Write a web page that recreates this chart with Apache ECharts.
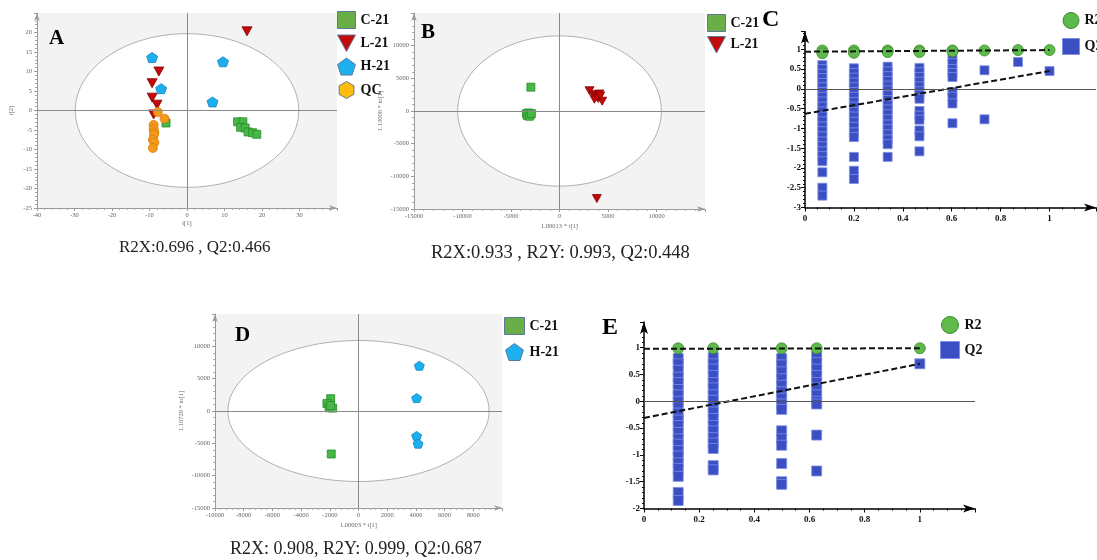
<!DOCTYPE html>
<html>
<head>
<meta charset="utf-8">
<script src="https://cdn.jsdelivr.net/npm/echarts@6/dist/echarts.min.js"></script>
<style>html,body{margin:0;padding:0;background:#fff;}#chart{width:1097px;height:560px;}</style>
</head>
<body>
<div id="chart"></div>
<script>
// ---------- DATA ----------
// Panel A (PCA scores t[1], t[2])
const aC21 = [[-5.6,-3.2],[13.5,-2.9],[14.9,-2.9],[14.3,-4.3],[15.5,-4.5],[16.3,-5.5],[17.5,-5.7],[18.6,-6.1]];
const aL21 = [[16,20.3],[-7.5,10],[-9.3,7],[-9.3,3.3],[-8,1.5],[-8.9,-1.0]];
const aH21 = [[-9.3,13.6],[-6.9,5.6],[9.6,12.5],[6.8,2.2]];
const aQC  = [[-7.8,-0.4],[-6,-2.1],[-8.9,-3.7],[-8.9,-4.8],[-8.7,-5.6],[-8.8,-6.2],[-9.1,-7.5],[-8.7,-8.2],[-9.1,-9.6]];
const aEllipse = [0, 0, 29.8, 19.7];
// Panel B (OPLS-DA C-21 vs L-21)
const bC21 = [[-2950,3650],[-3400,-400],[-3200,-300],[-3000,-500],[-3300,-700],[-3100,-800],[-2900,-400]];
const bL21 = [[3100,3100],[3500,2500],[3800,2200],[4100,2600],[3600,1800],[4000,1900],[4400,1500],[4200,2300],[3850,-13400]];
const bEllipse = [0, 0, 10500, 11500];
// Panel D (OPLS-DA C-21 vs H-21)
const dC21 = [[-1940,1900],[-2200,1150],[-2050,500],[-1800,450],[-1950,850],[-1900,-6650]];
const dH21 = [[4240,7000],[4050,2000],[4050,-3850],[4150,-5050]];
const dEllipse = [0, 0, 9100, 10900];
// Panel C (permutation test)
const cR2 = [[0.071,0.97],[0.071,0.9],[0.2,0.97],[0.2,0.91],[0.338,0.97],[0.338,0.93],[0.468,0.97],[0.468,0.93],[0.603,0.97],[0.603,0.95],[0.734,0.97],[0.871,0.98],[1,0.98]];
const cQ2 = [
  [0.071,0.6],[0.071,0.5],[0.071,0.38],[0.071,0.27],[0.071,0.15],[0.071,0.04],[0.071,-0.08],[0.071,-0.2],[0.071,-0.32],[0.071,-0.45],[0.071,-0.57],[0.071,-0.7],[0.071,-0.82],[0.071,-0.95],[0.071,-1.07],[0.071,-1.2],[0.071,-1.33],[0.071,-1.45],[0.071,-1.58],[0.071,-1.7],[0.071,-1.83],[0.071,-2.11],[0.071,-2.5],[0.071,-2.7],
  [0.2,0.52],[0.2,0.4],[0.2,0.28],[0.2,0.16],[0.2,0.04],[0.2,-0.08],[0.2,-0.2],[0.2,-0.33],[0.2,-0.45],[0.2,-0.58],[0.2,-0.7],[0.2,-0.83],[0.2,-0.96],[0.2,-1.1],[0.2,-1.22],[0.2,-1.72],[0.2,-2.07],[0.2,-2.28],
  [0.338,0.56],[0.338,0.44],[0.338,0.32],[0.338,0.2],[0.338,0.08],[0.338,-0.04],[0.338,-0.16],[0.338,-0.28],[0.338,-0.4],[0.338,-0.52],[0.338,-0.64],[0.338,-0.77],[0.338,-0.9],[0.338,-1.02],[0.338,-1.15],[0.338,-1.28],[0.338,-1.4],[0.338,-1.72],
  [0.468,0.53],[0.468,0.42],[0.468,0.3],[0.468,0.18],[0.468,0.06],[0.468,-0.06],[0.468,-0.15],[0.468,-0.25],[0.468,-0.56],[0.468,-0.68],[0.468,-0.78],[0.468,-1.05],[0.468,-1.2],[0.468,-1.58],
  [0.603,0.78],[0.603,0.65],[0.603,0.5],[0.603,0.4],[0.603,0.3],[0.603,-0.08],[0.603,-0.2],[0.603,-0.37],[0.603,-0.87],
  [0.734,0.47],[0.734,-0.77],[0.871,0.68],[1,0.45]
];
const cR2fit = [[0,0.94],[1,0.98]];
const cQ2fit = [[0,-0.63],[1,0.45]];
// Panel E (permutation test)
const eR2 = [[0.124,0.99],[0.251,0.99],[0.499,0.99],[0.626,0.99],[1,0.99]];
const eQ2 = [
  [0.124,0.8],[0.124,0.7],[0.124,0.58],[0.124,0.45],[0.124,0.35],[0.124,0.22],[0.124,0.12],[0.124,0.0],[0.124,-0.1],[0.124,-0.22],[0.124,-0.35],[0.124,-0.45],[0.124,-0.58],[0.124,-0.7],[0.124,-0.8],[0.124,-0.92],[0.124,-1.02],[0.124,-1.15],[0.124,-1.25],[0.124,-1.4],[0.124,-1.7],[0.124,-1.85],
  [0.251,0.82],[0.251,0.7],[0.251,0.6],[0.251,0.48],[0.251,0.35],[0.251,0.25],[0.251,0.12],[0.251,0.02],[0.251,-0.1],[0.251,-0.2],[0.251,-0.32],[0.251,-0.45],[0.251,-0.55],[0.251,-0.68],[0.251,-0.78],[0.251,-0.88],[0.251,-1.2],[0.251,-1.28],
  [0.499,0.8],[0.499,0.68],[0.499,0.55],[0.499,0.42],[0.499,0.3],[0.499,0.18],[0.499,0.06],[0.499,-0.05],[0.499,-0.15],[0.499,-0.55],[0.499,-0.7],[0.499,-0.82],[0.499,-1.16],[0.499,-1.5],[0.499,-1.55],
  [0.626,0.85],[0.626,0.72],[0.626,0.6],[0.626,0.48],[0.626,0.35],[0.626,0.25],[0.626,0.12],[0.626,0.0],[0.626,-0.05],[0.626,-0.63],[0.626,-1.3],
  [1,0.7]
];
const eR2fit = [[0,0.98],[1,0.99]];
const eQ2fit = [[0,-0.31],[1,0.70]];
// Texts
const captions = ['R2X:0.696 , Q2:0.466', 'R2X:0.933 , R2Y: 0.993, Q2:0.448', 'R2X: 0.908, R2Y: 0.999, Q2:0.687'];
const panelLetters = ['A','B','C','D','E'];

// ---------- STYLE ----------
const SERIF = 'Liberation Serif';
const GREEN = '#45b845', RED = '#c20a0a', CYAN = '#1eb0ee', ORANGE = '#f39b1c';
const BLUE = '#3b4ec2', LGREEN = '#5ebb4b';
const TRI = 'path://M0,0L12,0L6,11Z';
const PENT = 'path://M6,0L12,4.4L9.7,11.4L2.3,11.4L0,4.4Z';
const HEX = 'path://M5.2,0L10.4,3L10.4,9L5.2,12L0,9L0,3Z';
const plain = function (v) { return String(Math.round(v * 1000) / 1000); };

const chart = echarts.init(document.getElementById('chart'));

function scoreAxes(gi, xmin, xmax, xint, ymin, ymax, yint, xname, yname, xgap, ygap) {
  const line = {show:true, onZero:false, lineStyle:{color:'#9a9a9a', width:1}, symbol:['none','arrow'], symbolSize:[4,8]};
  const lab = {fontFamily:SERIF, fontSize:6.5, color:'#666', showMaxLabel:false, formatter:plain};
  return {
    x: {type:'value', gridIndex:gi, min:xmin, max:xmax, interval:xint, axisLine:line,
        axisTick:{show:true, length:3, lineStyle:{color:'#9a9a9a'}}, minorTick:{show:true, splitNumber:5, length:2, lineStyle:{color:'#aaa'}},
        axisLabel:Object.assign({margin:4}, lab), splitLine:{show:false},
        name:xname, nameLocation:'middle', nameGap:xgap, nameTextStyle:{fontFamily:SERIF, fontSize:6.5, color:'#666'}},
    y: {type:'value', gridIndex:gi, min:ymin, max:ymax, interval:yint, axisLine:line,
        axisTick:{show:true, length:3, lineStyle:{color:'#9a9a9a'}}, minorTick:{show:true, splitNumber:5, length:2, lineStyle:{color:'#aaa'}},
        axisLabel:Object.assign({margin:5}, lab), splitLine:{show:false},
        name:yname, nameLocation:'middle', nameGap:ygap, nameRotate:90, nameTextStyle:{fontFamily:SERIF, fontSize:6.5, color:'#666'}}
  };
}
function permAxes(gi, xmax, ymin, ymax) {
  const line = {show:true, onZero:false, lineStyle:{color:'#000', width:1.5}, symbol:['none','arrow'], symbolSize:[6,12]};
  const lab = {fontFamily:SERIF, fontSize:9, fontWeight:'bold', color:'#111', showMaxLabel:false, formatter:plain};
  return {
    x: {type:'value', gridIndex:gi, min:0, max:xmax, interval:0.2, axisLine:line,
        axisTick:{show:true, length:4, lineStyle:{color:'#000'}}, minorTick:{show:true, splitNumber:4, length:2, lineStyle:{color:'#000'}},
        axisLabel:Object.assign({margin:7}, lab), splitLine:{show:false}},
    y: {type:'value', gridIndex:gi, min:ymin, max:ymax, interval:0.5, axisLine:line,
        axisTick:{show:true, length:4, lineStyle:{color:'#000'}}, minorTick:{show:true, splitNumber:5, length:2, lineStyle:{color:'#000'}},
        axisLabel:Object.assign({margin:4}, lab), splitLine:{show:false}}
  };
}
const axA = scoreAxes(0, -40, 40, 10, -25, 25, 5, 't[1]', 't[2]', 8, 22);
const axB = scoreAxes(1, -15000, 15000, 5000, -15000, 15000, 5000, '1.00013 * t[1]', '1.13006 * to[1]', 14, 30);
const axC = permAxes(2, 1.19, -3, 1.45);
const axD = scoreAxes(3, -10000, 10000, 2000, -15000, 15000, 5000, '1.00003 * t[1]', '1.16729 * to[1]', 14, 30);
const axE = permAxes(4, 1.2, -2, 1.48);

function ellipseSeries(gi, e) {
  return {type:'custom', xAxisIndex:gi, yAxisIndex:gi, z:1, silent:true, data:[e],
    renderItem: function(params, api) {
      const c = api.coord([api.value(0), api.value(1)]);
      const s = api.size([api.value(2), api.value(3)]);
      return {type:'ellipse', shape:{cx:c[0], cy:c[1], rx:s[0], ry:s[1]}, style:{fill:'#fff', stroke:'#b0b0b0', lineWidth:1}};
    }};
}
const crossLines = {silent:true, symbol:'none', label:{show:false}, lineStyle:{color:'#8a8a8a', width:1, type:'solid'}, data:[{xAxis:0},{yAxis:0}], animation:false};
const zeroLine = {silent:true, symbol:'none', label:{show:false}, lineStyle:{color:'#555', width:1, type:'solid'}, data:[{yAxis:0}], animation:false};

function sc(gi, name, data, symbol, size, color, border, z) {
  return {type:'scatter', name:name, xAxisIndex:gi, yAxisIndex:gi, data:data, symbol:symbol, symbolSize:size, z:z||3,
    itemStyle:{color:color, borderColor:border, borderWidth:0.8, opacity:1}};
}
function fit(gi, name, data) {
  return {type:'line', name:name, xAxisIndex:gi, yAxisIndex:gi, data:data, symbol:'none', z:4,
    lineStyle:{color:'#111', width:2, type:[6,3]}};
}

const series = [
  ellipseSeries(0, aEllipse),
  Object.assign(sc(0,'C-21',aC21,'rect',8,GREEN,'#2c8c2c'), {markLine:crossLines}),
  sc(0,'L-21',aL21,TRI,[10,9],RED,'#8a0000'),
  sc(0,'H-21',aH21,PENT,[11,10],CYAN,'#0c86c0'),
  sc(0,'QC',aQC,'circle',9,ORANGE,'#dd7a00'),
  ellipseSeries(1, bEllipse),
  Object.assign(sc(1,'C-21',bC21,'rect',8,GREEN,'#2c8c2c'), {markLine:crossLines}),
  sc(1,'L-21',bL21,TRI,[9,8],RED,'#8a0000'),
  ellipseSeries(3, dEllipse),
  Object.assign(sc(3,'C-21',dC21,'rect',8,GREEN,'#2c8c2c'), {markLine:crossLines}),
  sc(3,'H-21',dH21,PENT,[10,9],CYAN,'#0c86c0'),
  Object.assign(sc(2,'Q2',cQ2,'rect',9,BLUE,'#7d8fe6',2), {markLine:zeroLine}),
  sc(2,'R2',cR2,'circle',11,LGREEN,'#3c8c2c'),
  fit(2,'R2 fit',cR2fit), fit(2,'Q2 fit',cQ2fit),
  Object.assign(sc(4,'Q2',eQ2,'rect',10,BLUE,'#7d8fe6',2), {markLine:zeroLine}),
  sc(4,'R2',eR2,'circle',11,LGREEN,'#3c8c2c'),
  fit(4,'R2 fit',eR2fit), fit(4,'Q2 fit',eQ2fit)
];

const legText = {fontFamily:SERIF, fontWeight:'bold', fontSize:14, color:'#111'};
const legBorder = {borderColor:'#5c7a98', borderWidth:1};
function legend(left, top, gap, w, h, items) {
  return {left:left, top:top, orient:'vertical', itemGap:gap, itemWidth:w, itemHeight:h, padding:0, selectedMode:false,
    textStyle:legText, data:items};
}
const legends = [
  legend(337, 11, 5.5, 18, 17, [
    {name:'C-21', icon:'rect', itemStyle:Object.assign({color:'#6aae48'}, legBorder)},
    {name:'L-21', icon:TRI, itemStyle:Object.assign({color:RED}, legBorder)},
    {name:'H-21', icon:PENT, itemStyle:Object.assign({color:CYAN}, legBorder)},
    {name:'QC', icon:HEX, itemStyle:Object.assign({color:'#fdbd0a'}, legBorder)}]),
  legend(707, 14, 4, 18, 17, [
    {name:'C-21', icon:'rect', itemStyle:Object.assign({color:'#6aae48'}, legBorder)},
    {name:'L-21', icon:TRI, itemStyle:Object.assign({color:RED}, legBorder)}]),
  legend(1062, 12, 9, 17, 16, [
    {name:'R2', icon:'circle', itemStyle:{color:LGREEN, borderColor:'#3c8c2c', borderWidth:1}},
    {name:'Q2', icon:'rect', itemStyle:{color:BLUE, borderColor:'#7d8fe6', borderWidth:1}}]),
  legend(504, 317, 8, 20, 17, [
    {name:'C-21', icon:'rect', itemStyle:Object.assign({color:'#6aae48'}, legBorder)},
    {name:'H-21', icon:PENT, itemStyle:Object.assign({color:CYAN}, legBorder)}]),
  legend(940, 316, 7, 19, 17, [
    {name:'R2', icon:'circle', itemStyle:{color:LGREEN, borderColor:'#3c8c2c', borderWidth:1}},
    {name:'Q2', icon:'rect', itemStyle:{color:BLUE, borderColor:'#7d8fe6', borderWidth:1}}])
];

function ttl(text, left, top, size, bold) {
  return {text:text, left:left, top:top, padding:0, textStyle:{fontFamily:SERIF, fontSize:size, fontWeight:bold?'bold':'normal', color:bold?'#000':'#222'}};
}
const titles = [
  ttl(panelLetters[0], 49, 28, 21, true),
  ttl(panelLetters[1], 421, 22, 21, true),
  ttl(panelLetters[2], 762, 8, 24, true),
  ttl(panelLetters[3], 235, 325, 21, true),
  ttl(panelLetters[4], 602, 316, 24, true),
  ttl(captions[0], 119, 239, 17, false),
  ttl(captions[1], 431, 244, 18.5, false),
  ttl(captions[2], 230, 540, 18, false)
];

chart.setOption({
  animation:false,
  title: titles,
  legend: legends,
  grid: [
    {left:37, top:13, width:300, height:195, show:true, backgroundColor:'#f3f3f3', borderWidth:0},
    {left:414, top:13, width:291, height:196, show:true, backgroundColor:'#f3f3f3', borderWidth:0},
    {left:805, top:31.5, width:291, height:176},
    {left:215, top:314, width:287, height:194, show:true, backgroundColor:'#f3f3f3', borderWidth:0},
    {left:644, top:322, width:331, height:186.5}
  ],
  xAxis: [axA.x, axB.x, axC.x, axD.x, axE.x],
  yAxis: [axA.y, axB.y, axC.y, axD.y, axE.y],
  series: series
});
</script>
</body>
</html>
